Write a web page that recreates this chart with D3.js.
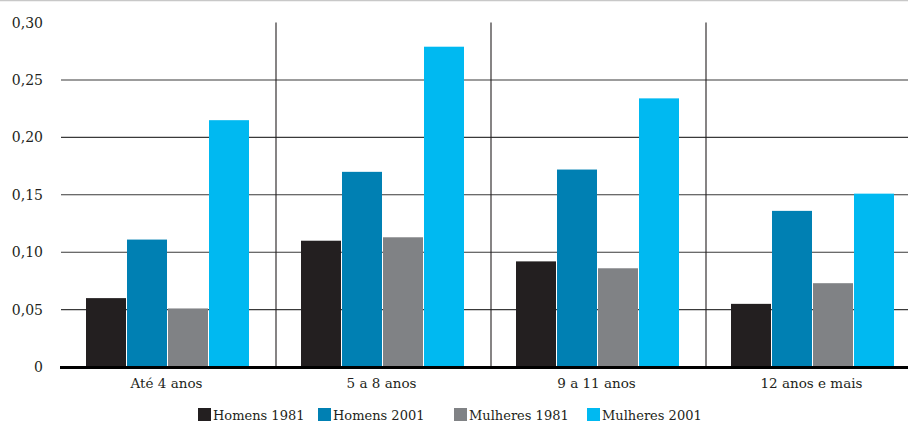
<!DOCTYPE html>
<html>
<head>
<meta charset="utf-8">
<script src="https://cdn.jsdelivr.net/npm/d3@7"></script>
<style>
  html, body { margin: 0; padding: 0; background: #fff; }
  svg { display: block; }
</style>
</head>
<body>
<svg id="chart" width="908" height="423" font-family="'DejaVu Serif', serif"></svg>
<script>
const categories = ["Até 4 anos", "5 a 8 anos", "9 a 11 anos", "12 anos e mais"];
const seriesNames = ["Homens 1981", "Homens 2001", "Mulheres 1981", "Mulheres 2001"];
const homens1981 = [0.060, 0.110, 0.092, 0.055];
const homens2001 = [0.111, 0.170, 0.172, 0.136];
const mulheres1981 = [0.051, 0.113, 0.086, 0.073];
const mulheres2001 = [0.215, 0.279, 0.234, 0.151];
const yTicks = [0, 0.05, 0.10, 0.15, 0.20, 0.25, 0.30];
const colors = ["#231f20", "#0080b3", "#808285", "#00b9f1"];

const seriesValues = [homens1981, homens2001, mulheres1981, mulheres2001];

const svg = d3.select("#chart");
const W = 908, H = 423;
const textColor = "#231f20";

// top light rule
svg.append("line").attr("x1", 0).attr("x2", W).attr("y1", 0.5).attr("y2", 0.5)
  .attr("stroke", "#c8c8c8").attr("stroke-width", 1.5);

const x0 = d3.scaleBand().domain(categories).range([61, 921]).paddingInner(0).paddingOuter(0);
const x1 = d3.scaleBand().domain(seriesNames).range([25, 189]).padding(0);
const y = d3.scaleLinear().domain([0, 0.30]).range([367, 22.6]);

// horizontal gridlines
svg.append("g").selectAll("line")
  .data(yTicks.filter(t => t > 0 && t < 0.30))
  .join("line")
  .attr("x1", 61).attr("x2", W)
  .attr("y1", d => y(d)).attr("y2", d => y(d))
  .attr("stroke", "#3a3a3a").attr("stroke-width", 1.1);

// vertical separators
svg.append("g").selectAll("line")
  .data(categories.slice(1))
  .join("line")
  .attr("x1", d => x0(d)).attr("x2", d => x0(d))
  .attr("y1", y(0.30)).attr("y2", y(0))
  .attr("stroke", "#231f20").attr("stroke-width", 1.1);

// y tick labels
svg.append("g").selectAll("text")
  .data(yTicks)
  .join("text")
  .attr("x", 43).attr("y", d => y(d) + 5)
  .attr("text-anchor", "end")
  .attr("font-size", 14)
  .attr("fill", textColor)
  .text(d => d === 0 ? "0" : d3.format(".2f")(d).replace(".", ","));

// bars
const groups = svg.append("g").selectAll("g")
  .data(categories)
  .join("g")
  .attr("transform", d => `translate(${x0(d)},0)`);

groups.selectAll("rect")
  .data((c, i) => seriesNames.map((s, j) => ({ s, v: seriesValues[j][i], j })))
  .join("rect")
  .attr("x", d => x1(d.s))
  .attr("width", x1.bandwidth() - 1)
  .attr("y", d => y(d.v))
  .attr("height", d => y(0) - y(d.v))
  .attr("fill", d => colors[d.j]);

// baseline
svg.append("line").attr("x1", 60).attr("x2", W).attr("y1", y(0) + 0.5).attr("y2", y(0) + 0.5)
  .attr("stroke", "#000").attr("stroke-width", 3);

// x category labels
svg.append("g").selectAll("text")
  .data(categories)
  .join("text")
  .attr("x", d => x0(d) + x0.bandwidth() / 2 - 2)
  .attr("y", 388)
  .attr("text-anchor", "middle")
  .attr("font-size", 13.5)
  .attr("fill", textColor)
  .text(d => d);

// legend
const legendX = [198, 318, 454, 587];
const leg = svg.append("g").selectAll("g")
  .data(seriesNames)
  .join("g")
  .attr("transform", (d, i) => `translate(${legendX[i]},408)`);
leg.append("rect").attr("x", 0).attr("y", 0).attr("width", 13).attr("height", 13)
  .attr("fill", (d, i) => colors[i]);
leg.append("text").attr("x", 15).attr("y", 12).attr("font-size", 13)
  .attr("fill", textColor).text(d => d);
</script>
</body>
</html>
